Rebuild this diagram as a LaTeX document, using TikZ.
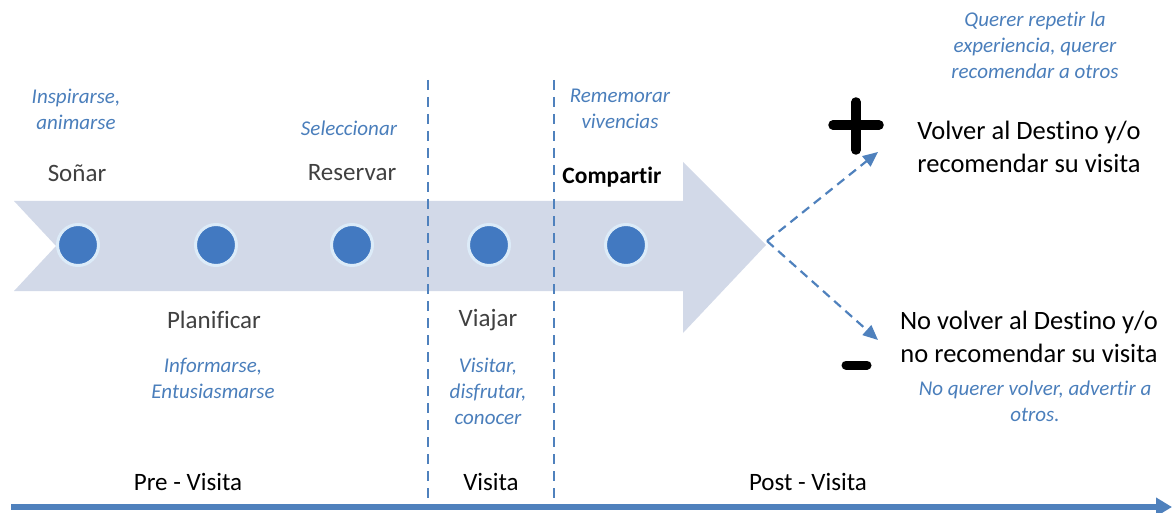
\documentclass[tikz,border=0pt]{standalone}
\usepackage{fontspec}
\setmainfont{Carlito}[Ligatures={NoCommon}]
\usetikzlibrary{arrows.meta}
\definecolor{bandfill}{HTML}{D2D9E8}
\definecolor{dotblue}{HTML}{4279C1}
\definecolor{dotring}{HTML}{DCEBF8}
\definecolor{lineblue}{HTML}{4F81BD}
\definecolor{italblue}{HTML}{4A7EBB}
\definecolor{labgray}{HTML}{404040}
\tikzset{
  dotnode/.style={circle, fill=dotblue, draw=dotring, line width=3pt, minimum size=41pt, inner sep=0pt},
  graylab/.style={text=labgray, font=\fontsize{25}{30}\selectfont, inner sep=0pt},
  itallab/.style={text=italblue, font=\fontsize{21}{26}\selectfont\itshape, align=center, inner sep=0pt},
  blacklab/.style={text=black, font=\fontsize{26.5}{33}\selectfont, align=center, inner sep=0pt},
  phaselab/.style={text=black, font=\fontsize{25}{30}\selectfont, inner sep=0pt},
  divider/.style={draw=lineblue, line width=2.3pt, dash pattern=on 10pt off 7pt},
  branch/.style={draw=lineblue, line width=2.2pt, dash pattern=on 9pt off 6pt, -{Triangle[length=15pt,width=13pt]}},
  signbar/.style={draw=black, line width=9.5pt, line cap=round},
}
\begin{document}
\begin{tikzpicture}[x=1pt, y=-1pt]
\useasboundingbox (0,0) rectangle (1172,513);
% big band arrow
\fill[bandfill] (14,201) -- (683,201) -- (683,162) -- (766,245) -- (683,333) -- (683,291) -- (14,291) -- (56,246) -- cycle;
% divider lines
\coordinate (d1t) at (428,80); \coordinate (d1b) at (428,500);
\coordinate (d2t) at (554,80); \coordinate (d2b) at (554,500);
\draw[divider] (d1t) -- (d1b);
\draw[divider] (d2t) -- (d2b);
% dots
\node[dotnode] (c1) at (78,245) {};
\node[dotnode] (c2) at (216,245) {};
\node[dotnode] (c3) at (352,245) {};
\node[dotnode] (c4) at (489,245) {};
\node[dotnode] (c5) at (626,245) {};
% stage labels
\node[graylab] (sonar) at (77,173) {Soñar};
\node[graylab] (reservar) at (352,173) {Reservar};
\node[graylab] (planif) at (214,320) {Planificar};
\node[graylab] (viajar) at (488,320) {Viajar};
\node[text=black, font=\fontsize{23.5}{28}\selectfont\bfseries, inner sep=0pt] (compartir) at (612,177) {Compartir};
% italic descriptions
\node[itallab] (insp) at (76,109) {Inspirarse,\\animarse};
\node[itallab] (selec) at (349,128) {Seleccionar};
\node[itallab] (remem) at (620,109) {Rememorar\\vivencias};
\node[itallab] (inform) at (213,378) {Informarse,\\Entusiasmarse};
\node[itallab] (visitar) at (488,391) {Visitar,\\disfrutar,\\conocer};
\node[itallab] (querer) at (1035,45) {Querer repetir la\\experiencia, querer\\recomendar a otros};
\node[itallab] (noquerer) at (1035,401) {No querer volver, advertir a\\otros.};
% outcomes
\node[blacklab] (volver) at (1029,147) {Volver al Destino y/o\\recomendar su visita};
\node[blacklab] (novolver) at (1029,337) {No volver al Destino y/o\\no recomendar su visita};
% branches
\coordinate (split) at (767,241);
\coordinate (upend) at (878,152);
\coordinate (downend) at (878,340);
\draw[branch] (split) -- (upend);
\draw[branch] (split) -- (downend);
% plus and minus signs
\coordinate (plT) at (856,102); \coordinate (plB) at (856,150);
\coordinate (plL) at (833,125); \coordinate (plR) at (879,125);
\draw[signbar] (plT) -- (plB);
\draw[signbar] (plL) -- (plR);
\coordinate (miL) at (846,365); \coordinate (miR) at (867,365);
\draw[signbar, line width=9pt] (miL) -- (miR);
% phases
\node[phaselab] (pre) at (188,482) {Pre - Visita};
\node[phaselab] (visita) at (491,482) {Visita};
\node[phaselab] (post) at (808,482) {Post - Visita};
% time axis
\coordinate (axL) at (11,507);
\coordinate (axR) at (1172,507);
\draw[draw=lineblue, line width=6pt, -{Triangle[length=16pt,width=18pt]}] (axL) -- (axR);
\end{tikzpicture}
\end{document}
